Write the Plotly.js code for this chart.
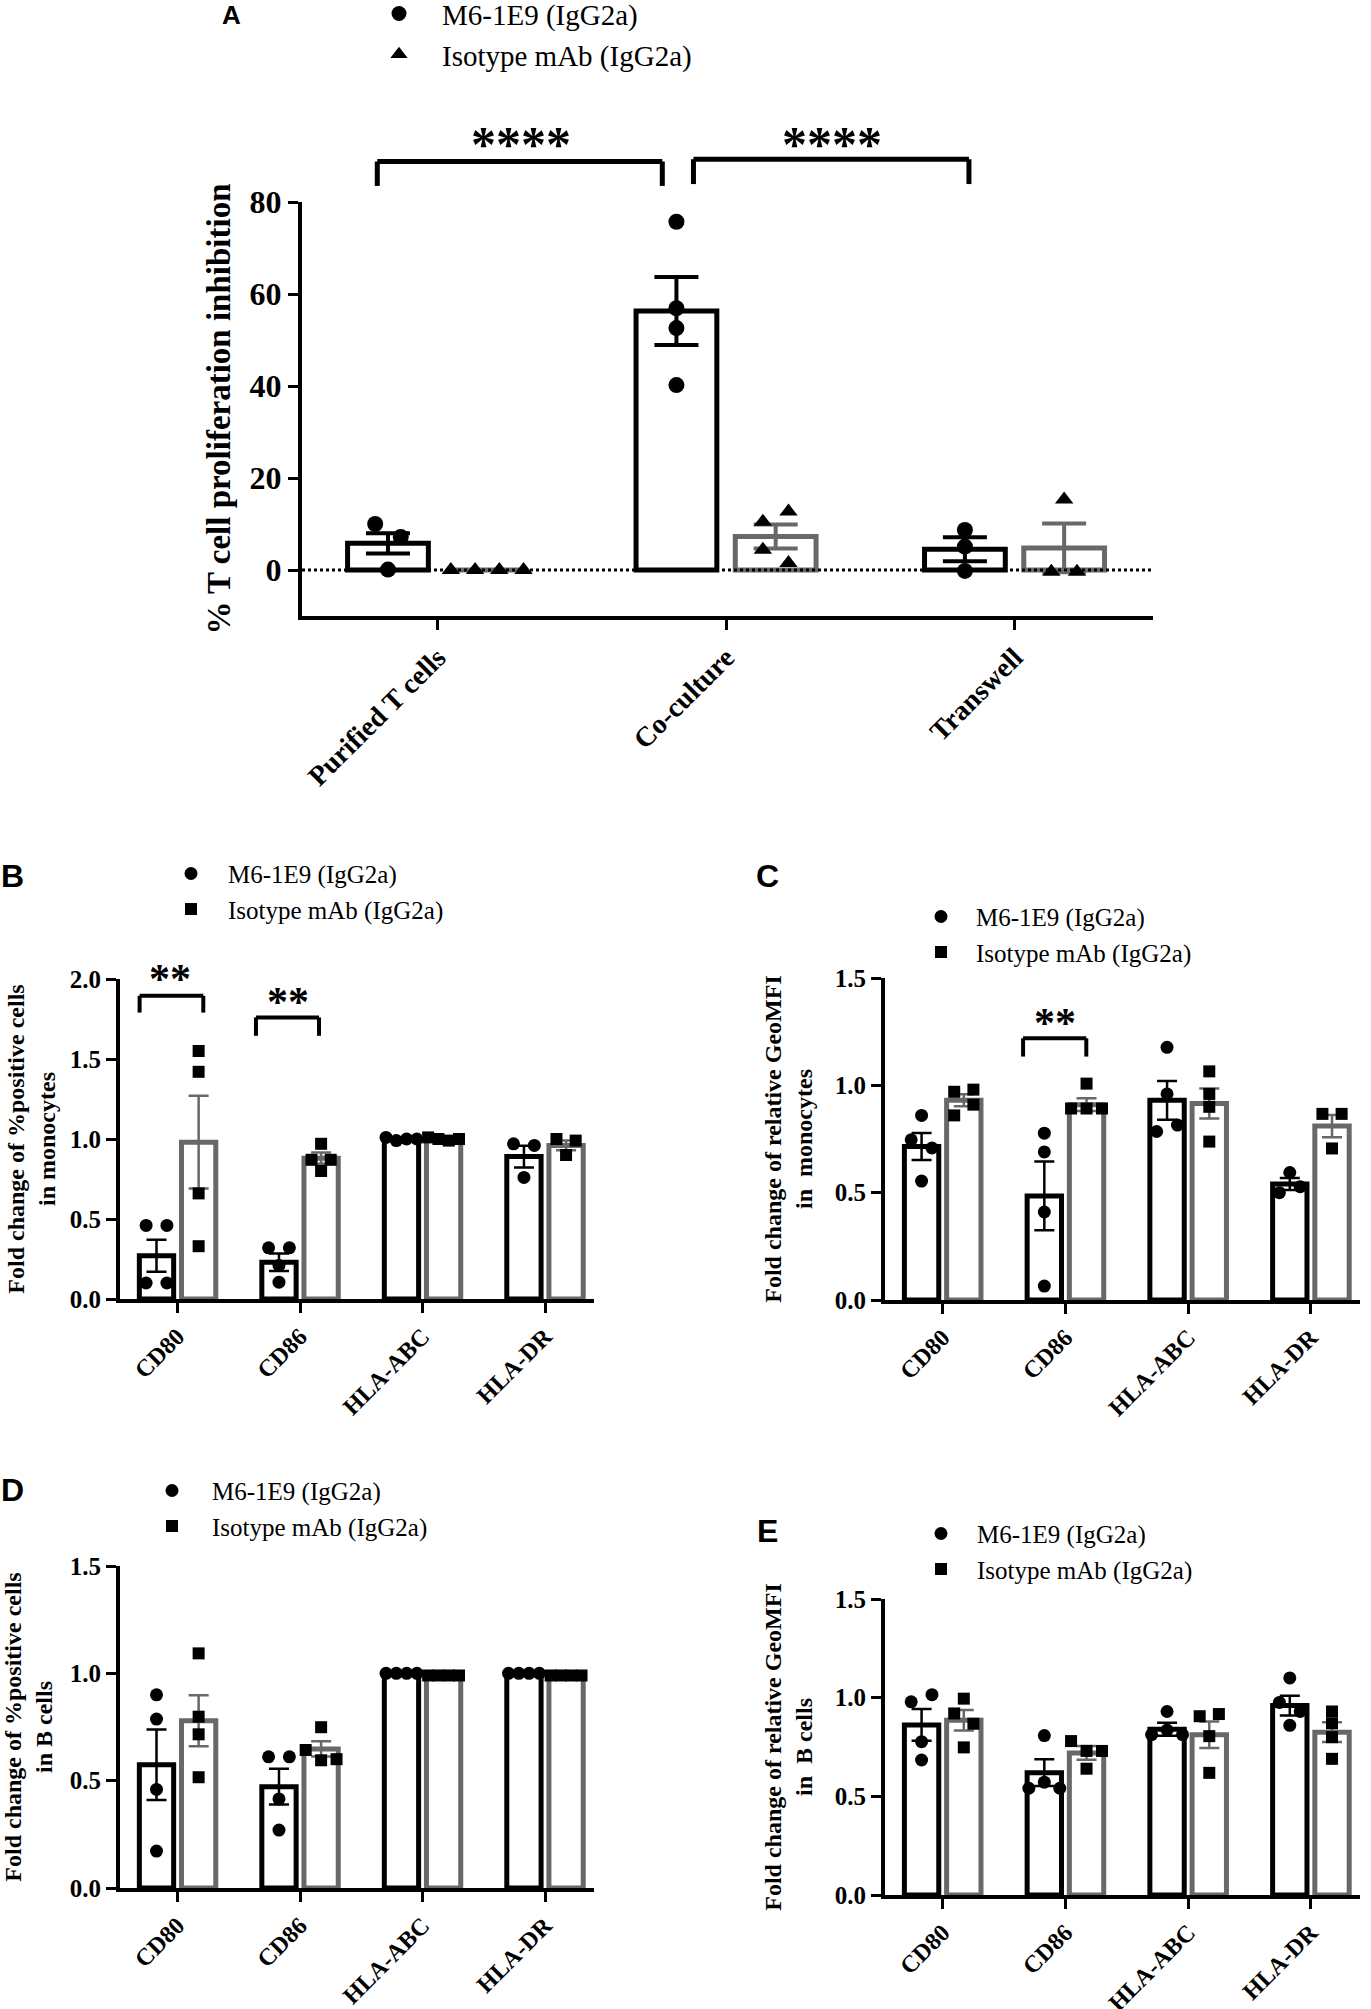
<!DOCTYPE html>
<html>
<head>
<meta charset="utf-8">
<script src="https://cdn.plot.ly/plotly-3.0.1.min.js"></script>
<style>body{margin:0;background:#fff}</style>
</head>
<body>
<div id="fig" style="width:1371px;height:2009px"></div>
<script>
var W = 1371, H = 2009;
var serif = 'Liberation Serif, Times New Roman, serif';
var sans = 'Liberation Sans, Arial, sans-serif';
var black = '#000000', grey = '#686868';

var nameM6 = 'M6-1E9 (IgG2a)';
var nameIso = 'Isotype mAb (IgG2a)';

// ---- panel A: % T cell proliferation inhibition ----
var condA = ['Purified T cells', 'Co-culture', 'Transwell'];
var meanA_m6 = [5.8, 56.3, 4.5];
var semA_m6 = [2.2, 7.4, 2.6];
var ptsA_m6 = [[10.0, 7.2, 0.1], [75.7, 56.9, 52.6, 40.2], [8.7, 5.1, -0.2]];
var meanA_iso = [0, 7.3, 4.8];
var semA_iso = [null, 2.6, 5.3];
var ptsA_iso = [[0, 0, 0, 0], [10.5, 12.7, 4.4, 1.5], [15.3, -0.4, -0.4]];

// ---- panels B-E share the same markers ----
var markers = ['CD80', 'CD86', 'HLA-ABC', 'HLA-DR'];

// B: %positive cells in monocytes
var meanB_m6 = [0.27, 0.23, 1.0, 0.89];
var semB_m6 = [0.10, 0.055, 0.005, 0.068];
var ptsB_m6 = [[0.46, 0.46, 0.10, 0.10], [0.32, 0.32, 0.21, 0.105], [1.01, 0.99, 1.0, 1.0], [0.97, 0.96, 0.76]];
var meanB_iso = [0.98, 0.88, 1.0, 0.96];
var semB_iso = [0.29, 0.035, 0.005, 0.03];
var ptsB_iso = [[1.55, 1.42, 0.66, 0.33], [0.97, 0.80, 0.87, 0.87], [1.01, 1.0, 0.99, 1.0], [1.0, 0.99, 0.90]];

// C: relative GeoMFI in monocytes
var meanC_m6 = [0.715, 0.485, 0.93, 0.54];
var semC_m6 = [0.063, 0.16, 0.09, 0.028];
var ptsC_m6 = [[0.86, 0.746, 0.708, 0.554], [0.777, 0.69, 0.41, 0.065], [1.177, 0.96, 0.785, 0.815], [0.594, 0.50, 0.528]];
var meanC_iso = [0.93, 0.91, 0.915, 0.81];
var semC_iso = [0.028, 0.03, 0.07, 0.052];
var ptsC_iso = [[0.97, 0.98, 0.86, 0.91], [1.008, 0.892, 0.892, 0.892], [1.065, 0.96, 0.90, 0.738], [0.867, 0.867, 0.706]];

// D: %positive cells in B cells
var meanD_m6 = [0.574, 0.472, 1.0, 1.0];
var semD_m6 = [0.164, 0.083, 0.003, 0.003];
var ptsD_m6 = [[0.90, 0.787, 0.459, 0.172], [0.611, 0.611, 0.415, 0.27], [1.0, 1.0, 1.0, 1.0], [1.0, 1.0, 1.0, 1.0]];
var meanD_iso = [0.779, 0.648, 0.99, 0.99];
var semD_iso = [0.119, 0.036, 0.003, 0.003];
var ptsD_iso = [[1.093, 0.798, 0.716, 0.516], [0.749, 0.643, 0.595, 0.60], [0.99, 0.99, 0.99, 0.99], [0.99, 0.99, 0.99, 0.99]];

// E: relative GeoMFI in B cells
var meanE_m6 = [0.862, 0.62, 0.84, 0.96];
var semE_m6 = [0.08, 0.068, 0.033, 0.05];
var ptsE_m6 = [[0.979, 1.015, 0.777, 0.684], [0.808, 0.541, 0.572, 0.541], [0.93, 0.813, 0.836, 0.813], [1.10, 0.976, 0.93, 0.86]];
var meanE_iso = [0.885, 0.72, 0.812, 0.825];
var semE_iso = [0.052, 0.035, 0.067, 0.05];
var ptsE_iso = [[0.995, 0.92, 0.868, 0.748], [0.78, 0.73, 0.73, 0.64], [0.906, 0.917, 0.805, 0.619], [0.93, 0.87, 0.80, 0.69]];

// ---- layout of the panels (px on the page) ----
var BARW = 0.28, OFF = 0.172;
var panels = [
  {letter: 'A', cats: condA, m6: meanA_m6, m6Sem: semA_m6, m6Pts: ptsA_m6, iso: meanA_iso, isoSem: semA_iso, isoPts: ptsA_iso,
   isoSymbol: 'triangle-up', ytitle: '% T cell proliferation inhibition', yticks: [0, 20, 40, 60, 80], yfmt: 'd',
   left: 302, right: 1153, top: 202, bottom: 616, xr: [-0.47, 2.48], yr: [-10, 80],
   ms: 16, lw: 5, et: 4, ew: 22, tickSize: 32, catSize: 28, titleSize: 33, standoff: 10,
   letterPos: [231, 15, 26], leg: {mx: 399, my: 12, tx: 447, fs: 29},
   brackets: [{x0: -0.209, x1: 0.779, top: 88.8, leg: 83.5, sx: 0.288, sy: 94.8, txt: '****'},
              {x0: 0.887, x1: 1.842, top: 89.3, leg: 83.9, sx: 1.366, sy: 94.8, txt: '****'}], starSize: 50, starShift: -10},
  {letter: 'B', cats: markers, m6: meanB_m6, m6Sem: semB_m6, m6Pts: ptsB_m6, iso: meanB_iso, isoSem: semB_iso, isoPts: ptsB_iso,
   isoSymbol: 'square', ytitle: 'Fold change of %positive cells<br>in monocytes', yticks: [0, 0.5, 1, 1.5, 2], yfmt: '.1f',
   left: 120, right: 594, top: 979, bottom: 1299, xr: [-0.47, 3.4], yr: [0, 2],
   ms: 13, lw: 5, et: 2.5, ew: 10, tickSize: 25, catSize: 24, titleSize: 24, standoff: 8,
   letterPos: [12, 876, 32], leg: {mx: 191, my: 872, tx: 233, fs: 25},
   brackets: [{x0: -0.31, x1: 0.21, top: 1.895, leg: 1.79, sx: -0.06, sy: 2.03, txt: '**'},
              {x0: 0.64, x1: 1.155, top: 1.76, leg: 1.645, sx: 0.9, sy: 1.89, txt: '**'}], starSize: 42, starShift: -5},
  {letter: 'C', cats: markers, m6: meanC_m6, m6Sem: semC_m6, m6Pts: ptsC_m6, iso: meanC_iso, isoSem: semC_iso, isoPts: ptsC_iso,
   isoSymbol: 'square', ytitle: 'Fold change of relative GeoMFI<br>in  monocytes', yticks: [0, 0.5, 1, 1.5], yfmt: '.1f',
   left: 885, right: 1360, top: 978, bottom: 1300, xr: [-0.47, 3.4], yr: [0, 1.5],
   ms: 13, lw: 5, et: 2.5, ew: 10, tickSize: 25, catSize: 24, titleSize: 24, standoff: 16,
   letterPos: [767, 876, 32], leg: {mx: 941, my: 915, tx: 981, fs: 25},
   brackets: [{x0: 0.655, x1: 1.17, top: 1.219, leg: 1.134, sx: 0.916, sy: 1.31, txt: '**'}], starSize: 42, starShift: -4},
  {letter: 'D', cats: markers, m6: meanD_m6, m6Sem: semD_m6, m6Pts: ptsD_m6, iso: meanD_iso, isoSem: semD_iso, isoPts: ptsD_iso,
   isoSymbol: 'square', ytitle: 'Fold change of %positive cells<br>in B cells', yticks: [0, 0.5, 1, 1.5], yfmt: '.1f',
   left: 120, right: 594, top: 1566, bottom: 1888, xr: [-0.47, 3.4], yr: [0, 1.5],
   ms: 13, lw: 5, et: 2.5, ew: 10, tickSize: 25, catSize: 24, titleSize: 24, standoff: 12,
   letterPos: [12, 1490, 32], leg: {mx: 172, my: 1489, tx: 217, fs: 25}, brackets: [], starSize: 42, starShift: 0},
  {letter: 'E', cats: markers, m6: meanE_m6, m6Sem: semE_m6, m6Pts: ptsE_m6, iso: meanE_iso, isoSem: semE_iso, isoPts: ptsE_iso,
   isoSymbol: 'square', ytitle: 'Fold change of relative GeoMFI<br>in  B cells', yticks: [0, 0.5, 1, 1.5], yfmt: '.1f',
   left: 885, right: 1360, top: 1599, bottom: 1895, xr: [-0.47, 3.4], yr: [0, 1.5],
   ms: 13, lw: 5, et: 2.5, ew: 10, tickSize: 25, catSize: 24, titleSize: 24, standoff: 16,
   letterPos: [767, 1531, 32], leg: {mx: 941, my: 1532, tx: 982, fs: 25}, brackets: [], starSize: 42, starShift: 0}
];

// data -> page px
function px(p, x) { return p.left + (x - p.xr[0]) / (p.xr[1] - p.xr[0]) * (p.right - p.left); }
function py(p, y) { return p.bottom - (y - p.yr[0]) / (p.yr[1] - p.yr[0]) * (p.bottom - p.top); }

// points that would overlap are put side by side, like a scatter dot plot
function spread(vals, pxPerY, diam, barPx, pxPerX) {
  var order = vals.map(function (v, i) { return i; }).sort(function (a, b) { return vals[a] - vals[b]; });
  var rows = [], cur = [];
  order.forEach(function (i, k) {
    if (k > 0 && (vals[i] - vals[order[k - 1]]) * pxPerY >= diam * 0.9) { rows.push(cur); cur = []; }
    cur.push(i);
  });
  rows.push(cur);
  var dx = [];
  rows.forEach(function (r) {
    r.sort(function (a, b) { return a - b; });
    var step = r.length > 1 ? Math.min(diam * 1.6, barPx * 0.9 / (r.length - 1)) : 0;
    r.forEach(function (i, j) { dx[i] = (j - (r.length - 1) / 2) * step / pxPerX; });
  });
  return dx;
}

var traces = [], shapes = [], annotations = [];
var layout = {
  width: W, height: H, margin: {l: 0, r: 0, t: 0, b: 0, autoexpand: false},
  paper_bgcolor: '#ffffff', plot_bgcolor: 'rgba(0,0,0,0)',
  barmode: 'overlay', showlegend: true, font: {family: serif, color: black}
};

panels.forEach(function (p, k) {
  var s = k === 0 ? '' : String(k + 1);
  var xa = 'x' + s, ya = 'y' + s;
  var pxPerX = (p.right - p.left) / (p.xr[1] - p.xr[0]);
  var pxPerY = (p.bottom - p.top) / (p.yr[1] - p.yr[0]);
  var idx = p.cats.map(function (c, i) { return i; });
  var series = [
    {mean: p.m6, sem: p.m6Sem, pts: p.m6Pts, color: black, off: -OFF, symbol: 'circle', name: nameM6, size: p.ms},
    {mean: p.iso, sem: p.isoSem, pts: p.isoPts, color: grey, off: OFF, symbol: p.isoSymbol, name: nameIso,
     size: p.isoSymbol === 'square' ? p.ms - 1 : p.ms}
  ];
  series.forEach(function (sr) {
    traces.push({
      type: 'bar', x: idx, y: sr.mean, width: BARW, offset: sr.off - BARW / 2,
      xaxis: xa, yaxis: ya, showlegend: false, hoverinfo: 'skip',
      marker: {color: '#ffffff', line: {color: sr.color, width: p.lw}},
      error_y: {type: 'data', array: sr.sem, visible: true, color: sr.color, thickness: p.et, width: p.ew}
    });
  });
  series.forEach(function (sr) {
    var xs = [], ys = [];
    sr.pts.forEach(function (vals, i) {
      var dx = spread(vals, pxPerY, sr.size, BARW * pxPerX, pxPerX);
      vals.forEach(function (v, j) { xs.push(i + sr.off + dx[j]); ys.push(v); });
    });
    traces.push({
      type: 'scatter', mode: 'markers', x: xs, y: ys, xaxis: xa, yaxis: ya,
      showlegend: false, hoverinfo: 'skip', cliponaxis: false,
      marker: {symbol: sr.symbol, size: sr.size, color: black}
    });
  });
  // legend entries
  var legId = 'legend' + s;
  var gap = p.leg.tx - p.leg.mx;
  var iw = Math.max(30, 2 * (gap - 5) - 10);
  series.forEach(function (sr) {
    traces.push({
      type: 'scatter', mode: 'markers', x: [null], y: [null], xaxis: xa, yaxis: ya,
      name: sr.name, legend: legId, showlegend: true,
      marker: {symbol: sr.symbol, size: Math.min(sr.size, 15), color: black}
    });
  });
  layout[legId] = {
    x: (p.leg.mx - iw / 2 - 5) / W, y: 1 - (p.leg.my - 5 - 0.65 * p.leg.fs) / H,
    xanchor: 'left', yanchor: 'top', itemwidth: iw, bgcolor: 'rgba(0,0,0,0)',
    font: {family: serif, size: p.leg.fs, color: black}, tracegroupgap: 0
  };

  layout['xaxis' + s] = {
    domain: [p.left / W, p.right / W], range: p.xr, anchor: ya,
    tickvals: idx, ticktext: p.cats, tickangle: -45,
    showline: true, linewidth: 4, linecolor: black,
    ticks: 'outside', ticklen: 10, tickwidth: 3, tickcolor: black,
    showgrid: false, zeroline: false, fixedrange: true,
    tickfont: {family: serif, size: p.catSize, color: black, weight: 'bold'}
  };
  layout['yaxis' + s] = {
    domain: [1 - p.bottom / H, 1 - p.top / H], range: p.yr, anchor: xa,
    tickvals: p.yticks, tickformat: p.yfmt,
    showline: true, linewidth: 4, linecolor: black,
    ticks: 'outside', ticklen: 10, tickwidth: 3, tickcolor: black,
    showgrid: false, zeroline: false, fixedrange: true,
    tickfont: {family: serif, size: p.tickSize, color: black, weight: 'bold'},
    title: {text: p.ytitle, standoff: p.standoff, font: {family: serif, size: p.titleSize, color: black, weight: 'bold'}}
  };

  // significance brackets
  p.brackets.forEach(function (b) {
    var x0 = px(p, b.x0) / W, x1 = px(p, b.x1) / W;
    var yt = 1 - py(p, b.top) / H, yl = 1 - py(p, b.leg) / H;
    var ln = {color: black, width: k === 0 ? 5 : 4};
    shapes.push({type: 'line', xref: 'paper', yref: 'paper', x0: x0, x1: x1, y0: yt, y1: yt, line: ln});
    shapes.push({type: 'line', xref: 'paper', yref: 'paper', x0: x0, x1: x0, y0: yt, y1: yl, line: ln});
    shapes.push({type: 'line', xref: 'paper', yref: 'paper', x0: x1, x1: x1, y0: yt, y1: yl, line: ln});
    annotations.push({
      xref: 'paper', yref: 'paper', x: px(p, b.sx) / W, y: 1 - py(p, b.sy) / H,
      xanchor: 'center', yanchor: 'middle', yshift: p.starShift, showarrow: false,
      text: b.txt, font: {family: serif, size: p.starSize, color: black, weight: 'bold'}
    });
  });

  annotations.push({
    xref: 'paper', yref: 'paper', x: p.letterPos[0] / W, y: 1 - p.letterPos[1] / H,
    xanchor: 'center', yanchor: 'middle', showarrow: false, text: p.letter,
    font: {family: sans, size: p.letterPos[2], color: black, weight: 'bold'}
  });
});

// dotted zero line of panel A
var pa = panels[0];
shapes.push({
  type: 'line', xref: 'paper', yref: 'paper', layer: 'above',
  x0: pa.left / W, x1: pa.right / W, y0: 1 - py(pa, 0) / H, y1: 1 - py(pa, 0) / H,
  line: {color: black, width: 3, dash: 'dot'}
});

layout.shapes = shapes;
layout.annotations = annotations;

Plotly.newPlot('fig', traces, layout, {displayModeBar: false, staticPlot: true});
</script>
</body>
</html>
